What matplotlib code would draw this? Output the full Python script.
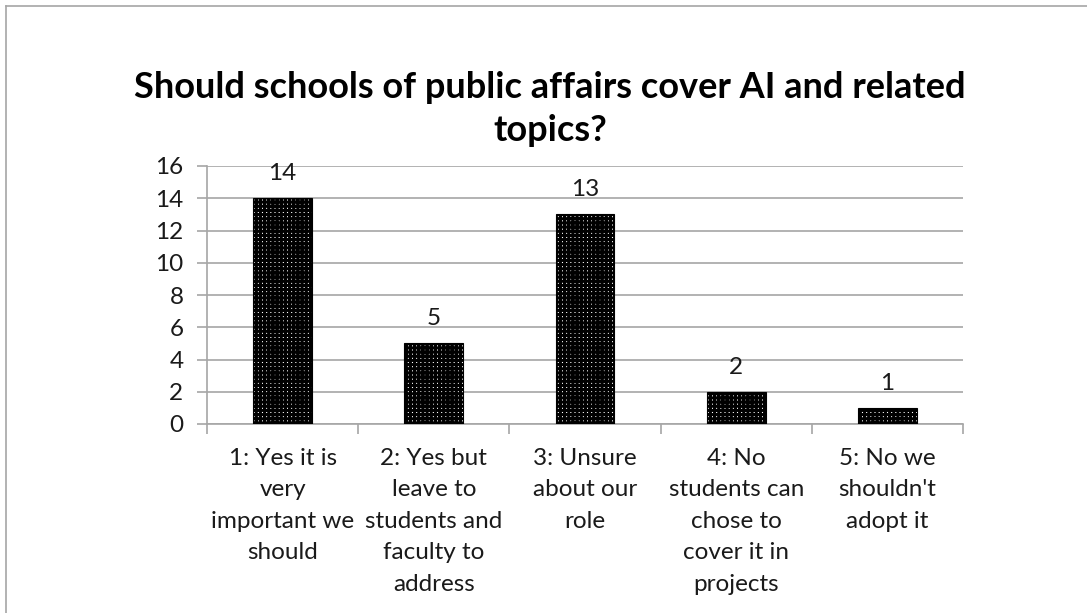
import matplotlib
matplotlib.use("Agg")
import matplotlib.pyplot as plt
from matplotlib.lines import Line2D

categories = [
    "1: Yes it is\nvery\nimportant we\nshould",
    "2: Yes but\nleave to\nstudents and\nfaculty to\naddress",
    "3: Unsure\nabout our\nrole",
    "4: No\nstudents can\nchose to\ncover it in\nprojects",
    "5: No we\nshouldn't\nadopt it",
]
counts = [14, 5, 13, 2, 1]
yticks = [0, 2, 4, 6, 8, 10, 12, 14, 16]
title = "Should schools of public affairs cover AI and related\ntopics?"

plt.rcParams['font.family'] = ['Lato', 'DejaVu Sans']
plt.rcParams['hatch.linewidth'] = 2.2

W, H = 1087, 613
fig = plt.figure(figsize=(W / 100, H / 100), dpi=100)
ax = fig.add_axes([207 / W, 1 - 424 / H, 756 / W, 258 / H])

grid_col = '#a6a6a6'
fs = 17.5
x = list(range(len(categories)))
bars = ax.bar(x, counts, width=0.39, color='white', edgecolor='black',
              linewidth=0.8, hatch='++++', zorder=3)
for xi, v in zip(x, counts):
    ax.annotate(str(v), (xi, v), xytext=(0, 10), textcoords='offset points',
                ha='center', va='bottom', fontsize=fs, color='#1a1a1a')

ax.set_xlim(-0.5, len(categories) - 0.5)
ax.set_ylim(0, 16)
ax.set_yticks(yticks)
ax.set_yticklabels([str(t) for t in yticks], fontsize=fs, color='#1a1a1a')
ax.set_xticks(x)
ax.set_xticklabels(categories, fontsize=fs, color='#1a1a1a', linespacing=1.62)
ax.set_xticks([i - 0.5 for i in range(len(categories) + 1)], minor=True)
ax.tick_params(axis='x', which='major', length=0, pad=17)
ax.tick_params(axis='x', which='minor', length=7, color=grid_col, width=1.2)
ax.tick_params(axis='y', length=7, color=grid_col, width=1.2, pad=10)
ax.yaxis.grid(True, color=grid_col, linewidth=1.2, zorder=0)
ax.set_axisbelow(True)
for s in ['top', 'right']:
    ax.spines[s].set_visible(False)
for s in ['left', 'bottom']:
    ax.spines[s].set_color(grid_col)
    ax.spines[s].set_linewidth(1.2)

fig.text(550 / W, 1 - 109 / H, title, ha='center', va='center', fontsize=26,
         fontweight='bold', linespacing=1.38, color='black')

fig.add_artist(Line2D([5.5 / W, 1], [1 - 5.5 / H, 1 - 5.5 / H], color='#a6a6a6', lw=1.2))
fig.add_artist(Line2D([5.5 / W, 5.5 / W], [0, 1 - 5.5 / H], color='#a6a6a6', lw=1.2))

fig.savefig('out.png', dpi=100)
